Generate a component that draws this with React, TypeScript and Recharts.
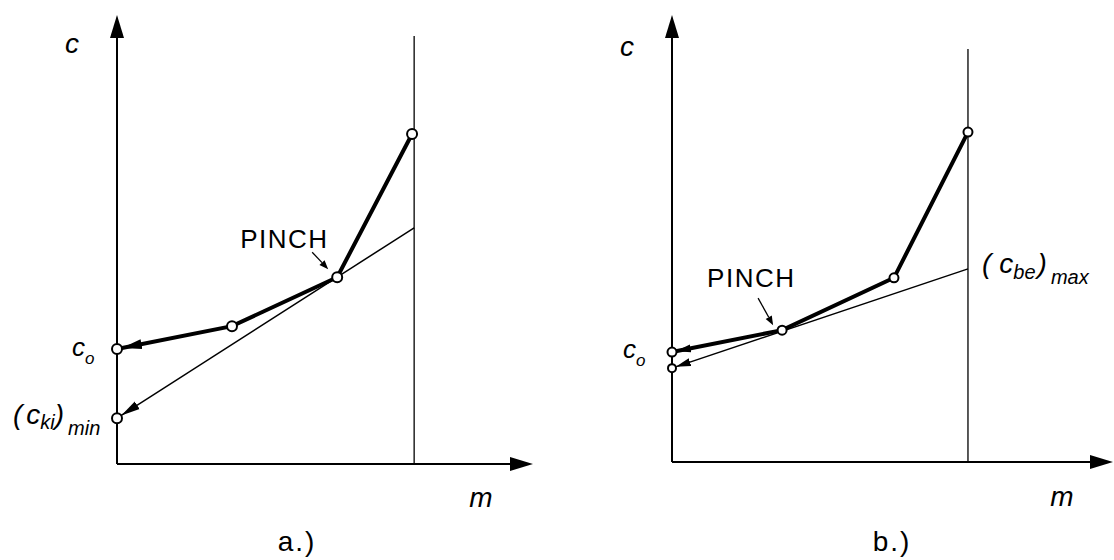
import React from "react";
import { Line, LineChart, ReferenceDot, ReferenceLine, XAxis, YAxis } from "recharts";

// a.) operating line through the pinch, ending at the inlet concentration c_o
const aBendM = [0, 3.87, 7.41, 9.93];
const aBendC = [2.56, 3.07, 4.16, 7.35];
// a.) tangent through the pinch, down to (c_ki)_min
const aTangentM = [0, 10];
const aTangentC = [1.02, 5.26];
const aPinchIdx = 2;

// b.) operating line, pinch lower down
const bBendM = [0, 3.72, 7.5, 10];
const bBendC = [2.46, 2.95, 4.12, 7.38];
// b.) tangent up to (c_be)_max at m = m_max
const bTangentM = [0, 10];
const bTangentC = [2.1, 4.32];
const bPinchIdx = 1;

// m_max marker line (top of the vertical line per panel)
const mLimit = 10;
const aLimitTop = 9.53;
const bLimitTop = 9.24;

const rows = (ms: number[], cs: number[]) => ms.map((m, i) => ({ m, c: cs[i] }));

const ITALIC = { fontFamily: "'Liberation Sans', Arial, sans-serif", fontStyle: "italic" as const };
const UPRIGHT = { fontFamily: "'Liberation Sans', Arial, sans-serif" };

function axisArrow(props: any) {
  const { x1, y1, x2, y2 } = props;
  const a = Math.atan2(y2 - y1, x2 - x1);
  const len = 23;
  const half = 7;
  const bx = x2 - len * Math.cos(a);
  const by = y2 - len * Math.sin(a);
  const px = -Math.sin(a) * half;
  const py = Math.cos(a) * half;
  return (
    <g>
      <line x1={x1} y1={y1} x2={bx} y2={by} stroke="#000" strokeWidth={2} />
      <polygon points={`${x2},${y2} ${bx + px},${by + py} ${bx - px},${by - py}`} fill="#000" />
    </g>
  );
}

function limitLine(props: any) {
  const { x1, y1, x2, y2 } = props;
  return <line x1={x1} y1={y1} x2={x2} y2={y2} stroke="#000" strokeWidth={1.3} />;
}

const openDot = (r: number) => (p: any) =>
  <circle key={`d${p.index}`} cx={p.cx} cy={p.cy} r={r} fill="#fff" stroke="#000" strokeWidth={2} />;

const firstDot = (r: number) => (p: any) =>
  p.index === 0 ? (
    <circle key={`d${p.index}`} cx={p.cx} cy={p.cy} r={r} fill="#fff" stroke="#000" strokeWidth={2} />
  ) : (
    <g key={`d${p.index}`} />
  );

// text placed relative to a data point
const note = (dx: number, dy: number, body: React.ReactNode, extra: any = {}) => (p: any) =>
  (
    <text x={p.cx + dx} y={p.cy + dy} fill="#000" {...extra}>
      {body}
    </text>
  );

const pinchNote = (tx: number, ty: number, ax: number, ay: number, bx: number, by: number) => (p: any) => {
  const x1 = p.cx + ax;
  const y1 = p.cy + ay;
  const x2 = p.cx + bx;
  const y2 = p.cy + by;
  const a = Math.atan2(y2 - y1, x2 - x1);
  const hx = x2 - 9 * Math.cos(a);
  const hy = y2 - 9 * Math.sin(a);
  const px = -Math.sin(a) * 3.5;
  const py = Math.cos(a) * 3.5;
  return (
    <g>
      <text x={p.cx + tx} y={p.cy + ty} fontSize={26} letterSpacing={1.5} {...UPRIGHT}>
        PINCH
      </text>
      <line x1={x1} y1={y1} x2={hx} y2={hy} stroke="#000" strokeWidth={1.3} />
      <polygon points={`${x2},${y2} ${hx + px},${hy + py} ${hx - px},${hy - py}`} fill="#000" />
    </g>
  );
};

const cAxis = <tspan>c</tspan>;
const mAxis = <tspan>m</tspan>;
const cO = (
  <>
    <tspan>c</tspan>
    <tspan fontSize={17} dy={8}>o</tspan>
  </>
);

export default function App() {
  const aBend = rows(aBendM, aBendC);
  const aTan = rows(aTangentM, aTangentC);
  const bBend = rows(bBendM, bBendC);
  const bTan = rows(bTangentM, bTangentC);
  const aPinch = aBend[aPinchIdx];
  const bPinch = bBend[bPinchIdx];

  return (
    <div style={{ position: "fixed", left: 0, top: 0, width: 1114, height: 560, background: "#fff" }}>
      <svg width={0} height={0} style={{ position: "absolute" }}>
        <defs>
          <marker id="headThick" viewBox="0 0 30 12" refX={25} refY={6} markerWidth={30} markerHeight={12}
            markerUnits="userSpaceOnUse" orient="auto-start-reverse">
            <path d="M0,1 L20,6 L0,11 Z" fill="#000" />
          </marker>
          <marker id="headThin" viewBox="0 0 30 12" refX={24} refY={6} markerWidth={30} markerHeight={12}
            markerUnits="userSpaceOnUse" orient="auto-start-reverse">
            <path d="M0,1.5 L19,6 L0,10.5 Z" fill="#000" />
          </marker>
          <marker id="headSmall" viewBox="0 0 24 10" refX={19} refY={5} markerWidth={24} markerHeight={10}
            markerUnits="userSpaceOnUse" orient="auto-start-reverse">
            <path d="M0,1 L15,5 L0,9 Z" fill="#000" />
          </marker>
        </defs>
      </svg>

      {/* a.) */}
      <div style={{ position: "absolute", left: 0, top: 0 }}>
        <LineChart width={557} height={560} margin={{ top: 15, left: 117, right: 24, bottom: 96 }}>
          <XAxis type="number" dataKey="m" domain={[0, 14]} hide />
          <YAxis type="number" dataKey="c" domain={[0, 10]} hide />
          <ReferenceLine segment={[{ x: mLimit, y: 0 }, { x: mLimit, y: aLimitTop }]} ifOverflow="visible" shape={limitLine} />
          <ReferenceLine segment={[{ x: 0, y: 0 }, { x: 0, y: 10 }]} ifOverflow="visible" shape={axisArrow} />
          <ReferenceLine segment={[{ x: 0, y: 0 }, { x: 14, y: 0 }]} ifOverflow="visible" shape={axisArrow} />
          <Line data={aTan} dataKey="c" type="linear" stroke="#000" strokeWidth={1.5} markerStart="url(#headThin)"
            dot={firstDot(5)} activeDot={false} isAnimationActive={false} />
          <Line data={aBend} dataKey="c" type="linear" stroke="#000" strokeWidth={4} markerStart="url(#headThick)"
            dot={openDot(5)} activeDot={false} isAnimationActive={false} />
          <ReferenceDot x={0} y={10} r={1} ifOverflow="visible"
            shape={note(-45, 38, cAxis, { ...ITALIC, fontSize: 28, textAnchor: "middle" })} />
          <ReferenceDot x={14} y={0} r={1} ifOverflow="visible"
            shape={note(-52, 43, mAxis, { ...ITALIC, fontSize: 28, textAnchor: "middle" })} />
          <ReferenceDot x={0} y={0} r={1} ifOverflow="visible"
            shape={note(180, 87, "a.)", { ...UPRIGHT, fontSize: 28, letterSpacing: 2, textAnchor: "middle" })} />
          <ReferenceDot x={0} y={aBendC[0]} r={1} ifOverflow="visible"
            shape={note(-45, 7, cO, { ...ITALIC, fontSize: 26 })} />
          <ReferenceDot x={0} y={aTangentC[0]} r={1} ifOverflow="visible"
            shape={note(-104, 6, (
              <>
                <tspan>(</tspan>
                <tspan dx={4}>c</tspan>
                <tspan fontSize={20} dy={5}>ki</tspan>
                <tspan dy={-5}>)</tspan>
                <tspan fontSize={20} dx={4} dy={11}>min</tspan>
              </>
            ), { ...ITALIC, fontSize: 28 })} />
          <ReferenceDot x={aPinch.m} y={aPinch.c} r={1} ifOverflow="visible"
            shape={pinchNote(-97, -29, -25, -25, -9, -8)} />
        </LineChart>
      </div>

      {/* b.) */}
      <div style={{ position: "absolute", left: 557, top: 0 }}>
        <LineChart width={557} height={560} margin={{ top: 15, left: 115, right: 1, bottom: 98 }}>
          <XAxis type="number" dataKey="m" domain={[0, 14.9]} hide />
          <YAxis type="number" dataKey="c" domain={[0, 10]} hide />
          <ReferenceLine segment={[{ x: mLimit, y: 0 }, { x: mLimit, y: bLimitTop }]} ifOverflow="visible" shape={limitLine} />
          <ReferenceLine segment={[{ x: 0, y: 0 }, { x: 0, y: 10 }]} ifOverflow="visible" shape={axisArrow} />
          <ReferenceLine segment={[{ x: 0, y: 0 }, { x: 14.9, y: 0 }]} ifOverflow="visible" shape={axisArrow} />
          <Line data={bTan} dataKey="c" type="linear" stroke="#000" strokeWidth={1.5} markerStart="url(#headSmall)"
            dot={firstDot(4)} activeDot={false} isAnimationActive={false} />
          <Line data={bBend} dataKey="c" type="linear" stroke="#000" strokeWidth={4} markerStart="url(#headSmall)"
            dot={openDot(4.5)} activeDot={false} isAnimationActive={false} />
          <ReferenceDot x={0} y={10} r={1} ifOverflow="visible"
            shape={note(-45, 41, cAxis, { ...ITALIC, fontSize: 28, textAnchor: "middle" })} />
          <ReferenceDot x={14.9} y={0} r={1} ifOverflow="visible"
            shape={note(-51, 44, mAxis, { ...ITALIC, fontSize: 28, textAnchor: "middle" })} />
          <ReferenceDot x={0} y={0} r={1} ifOverflow="visible"
            shape={note(220, 89, "b.)", { ...UPRIGHT, fontSize: 28, letterSpacing: 2, textAnchor: "middle" })} />
          <ReferenceDot x={0} y={bBendC[0]} r={1} ifOverflow="visible"
            shape={note(-49, 6, cO, { ...ITALIC, fontSize: 26 })} />
          <ReferenceDot x={mLimit} y={bTangentC[1]} r={1} ifOverflow="visible"
            shape={note(14, 4, (
              <>
                <tspan>(</tspan>
                <tspan dx={8}>c</tspan>
                <tspan fontSize={20} dy={6}>be</tspan>
                <tspan dx={2} dy={-6}>)</tspan>
                <tspan fontSize={20} dx={4} dy={11}>max</tspan>
              </>
            ), { ...ITALIC, fontSize: 28 })} />
          <ReferenceDot x={bPinch.m} y={bPinch.c} r={1} ifOverflow="visible"
            shape={pinchNote(-75, -43, -24, -32, -9, -5)} />
        </LineChart>
      </div>
    </div>
  );
}
